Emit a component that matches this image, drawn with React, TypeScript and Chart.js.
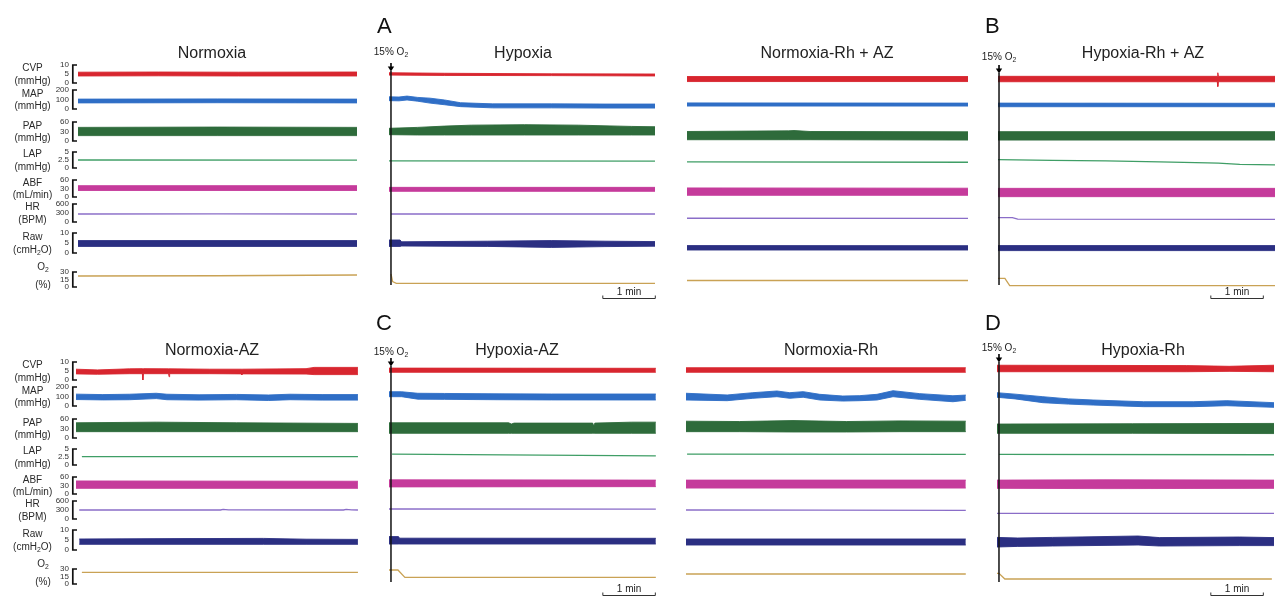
import React, { useEffect, useRef } from "react";
import { Chart, registerables } from "chart.js";
Chart.register(...registerables);

type Band = [number, number, number][]; // [minutes, low envelope, high envelope]
type Trace = [number, number][]; // [minutes, value]
type Seg = [string, boolean]; // [text, subscript]

// ---------------- channels ----------------
const CHANNELS = ["CVP", "MAP", "PAP", "LAP", "ABF", "HR", "Raw", "O2"];
const CHANNEL_MAX = [10, 200, 60, 5, 60, 600, 10, 30];
const TICK_LABELS = [
  ["0", "5", "10"],
  ["0", "100", "200"],
  ["0", "30", "60"],
  ["0", "2.5", "5"],
  ["0", "30", "60"],
  ["0", "300", "600"],
  ["0", "5", "10"],
  ["0", "15", "30"],
];
const NAME_LABELS: Seg[][] = [
  [["CVP", false]],
  [["MAP", false]],
  [["PAP", false]],
  [["LAP", false]],
  [["ABF", false]],
  [["HR", false]],
  [["Raw", false]],
  [["O", false], ["2", true]],
];
const UNIT_LABELS: Seg[][] = [
  [["(mmHg)", false]],
  [["(mmHg)", false]],
  [["(mmHg)", false]],
  [["(mmHg)", false]],
  [["(mL/min)", false]],
  [["(BPM)", false]],
  [["(cmH", false], ["2", true], ["O)", false]],
  [["(%)", false]],
];
const CHANNEL_COLORS = ["#d8262f", "#2f6ec6", "#2e6b3b", "#3f9e66", "#c53b9b", "#8a6dc8", "#2b2f82", "#c9a255"];
const IS_BAND = [true, true, true, false, true, false, true, false];

// ---------------- Normoxia ----------------
const P1_CVP: Band = [[0, 3.9, 6.0], [1.5, 4.0, 6.1], [3.0, 3.9, 6.0], [5.22, 3.9, 6.1]];
const P1_MAP: Band = [[0, 64, 104], [2.6, 66, 106], [5.22, 64, 104]];
const P1_PAP: Band = [[0, 17, 43], [2.6, 17, 44], [5.22, 17, 43]];
const P1_LAP: Trace = [[0, 2.5], [5.22, 2.45]];
const P1_ABF: Band = [[0, 23, 40], [5.22, 23, 40]];
const P1_HR: Trace = [[0, 267], [2.6, 272], [5.22, 267]];
const P1_RAW: Band = [[0, 3.3, 6.2], [5.22, 3.3, 6.2]];
const P1_O2: Trace = [[0, 22], [2.6, 22.5], [5.22, 24]];

// ---------------- Hypoxia ----------------
const P2_CVP: Band = [[-0.04, 4.4, 5.7], [1.0, 4.2, 5.4], [3.0, 4.1, 5.1], [4.94, 3.9, 5.0]];
const P2_MAP: Band = [[-0.04, 88, 128], [0.15, 86, 126], [0.3, 95, 136], [0.5, 82, 122], [0.73, 62, 114], [1.0, 45, 95], [1.3, 25, 66], [1.9, 12, 54], [3.0, 12, 54], [4.0, 10, 52], [4.94, 10, 52]];
const P2_PAP: Band = [[-0.04, 20, 40], [0.5, 19, 43], [1.0, 19, 47], [1.5, 19, 50], [2.5, 19, 51.5], [3.5, 19, 50], [4.5, 19, 46], [4.94, 19, 45]];
const P2_LAP: Trace = [[-0.04, 2.2], [4.94, 2.15]];
const P2_ABF: Band = [[-0.04, 20, 34], [4.94, 20, 34]];
const P2_HR: Trace = [[0, 267], [4.94, 267]];
const P2_RAW: Band = [[-0.04, 3.3, 6.5], [0.17, 3.3, 6.5], [0.2, 3.5, 5.6], [1.8, 3.3, 5.9], [3.0, 2.8, 6.2], [4.0, 3.2, 5.9], [4.94, 3.4, 5.7]];
const P2_O2: Trace = [[0, 26], [0.03, 11], [0.1, 7.4], [4.94, 7.4]];

// ---------------- Normoxia-Rh + AZ ----------------
const P3_CVP: Band = [[0, 0.8, 3.6], [5.26, 0.8, 3.6]];
const P3_MAP: Band = [[0, 31, 64], [5.26, 31, 62]];
const P3_PAP: Band = [[0, 4, 30], [1.9, 4, 32], [2.0, 4, 33], [2.3, 4, 30], [5.26, 3, 29]];
const P3_LAP: Trace = [[0, 1.9], [5.26, 1.8]];
const P3_ABF: Band = [[0, 6, 32], [5.26, 6, 31]];
const P3_HR: Trace = [[0, 125], [5.26, 123]];
const P3_RAW: Band = [[0, 1.5, 3.7], [5.26, 1.5, 3.65]];
const P3_O2: Trace = [[0, 13], [5.26, 13]];

// ---------------- Hypoxia-Rh + AZ ----------------
const P4_CVP: Band = [[-0.02, 0.7, 3.7], [4.08, 0.7, 3.7], [4.09, -2.4, 5.7], [4.1, 0.7, 3.7], [5.16, 0.7, 3.7]];
const P4_MAP: Band = [[-0.02, 24, 62], [5.16, 24, 60]];
const P4_PAP: Band = [[-0.02, 3, 29.5], [5.16, 3, 29.5]];
const P4_LAP: Trace = [[-0.02, 2.6], [1.0, 2.4], [2.0, 2.2], [3.0, 1.9], [3.9, 1.6], [4.1, 1.5], [4.5, 1.15], [5.16, 0.95]];
const P4_ABF: Band = [[-0.02, 1.2, 30.5], [5.16, 1.2, 30.5]];
const P4_HR: Trace = [[-0.02, 143], [0.25, 143], [0.35, 95], [5.16, 90]];
const P4_RAW: Band = [[-0.02, 1.2, 3.7], [5.16, 1.2, 3.7]];
const P4_O2: Trace = [[-0.02, 17.4], [0.11, 17.4], [0.2, 3], [5.16, 2.6]];

// ---------------- Normoxia-AZ ----------------
const P5_CVP: Band = [[0, 3.4, 6.0], [0.4, 3.2, 5.6], [1.0, 3.5, 6.2], [1.24, 3.5, 6.3], [1.25, 0, 6.3], [1.26, 3.5, 6.3], [1.73, 3.5, 6.2], [1.74, 1.8, 6.2], [1.75, 3.5, 6.2], [2.5, 3.5, 6.0], [3.09, 3.4, 6.0], [3.1, 2.8, 6.0], [3.11, 3.4, 6.0], [4.3, 3.3, 6.3], [4.45, 3.0, 7.0], [5.27, 3.0, 7.0]];
const P5_MAP: Band = [[0, 68, 125], [0.5, 64, 120], [1.0, 66, 124], [1.5, 78, 134], [1.7, 66, 124], [2.3, 62, 118], [3.0, 66, 122], [3.6, 58, 116], [4.0, 66, 124], [4.6, 62, 120], [5.27, 62, 120]];
const P5_PAP: Band = [[0, 20, 48], [1.5, 20, 50], [3.0, 20, 48], [5.27, 20, 46]];
const P5_LAP: Trace = [[0.11, 2.6], [5.27, 2.6]];
const P5_ABF: Band = [[0, 20, 46], [5.27, 20, 45]];
const P5_HR: Trace = [[0.06, 300], [2.7, 300], [2.75, 318], [2.85, 302], [5.0, 300], [5.05, 320], [5.15, 305], [5.27, 300]];
const P5_RAW: Band = [[0.06, 2.85, 5.5], [2.0, 2.85, 5.7], [3.5, 2.85, 5.8], [4.3, 2.85, 5.4], [5.27, 2.85, 5.3]];
const P5_O2: Trace = [[0.11, 23.3], [5.27, 23.3]];

// ---------------- Hypoxia-AZ ----------------
const P6_CVP: Band = [[-0.04, 4.3, 6.6], [4.95, 4.3, 6.5]];
const P6_MAP: Band = [[-0.04, 98, 150], [0.2, 98, 150], [0.5, 72, 134], [1.0, 70, 132], [2.0, 66, 128], [3.0, 64, 126], [4.95, 63, 126]];
const P6_PAP: Band = [[-0.04, 15, 48], [2.2, 15, 48], [2.25, 15, 44], [2.3, 15, 47], [3.77, 15, 47], [3.79, 15, 37], [3.81, 15, 47], [4.5, 15, 50], [4.95, 15, 50]];
const P6_LAP: Trace = [[0.02, 3.4], [4.95, 2.85]];
const P6_ABF: Band = [[-0.04, 25, 50], [4.95, 26, 49]];
const P6_HR: Trace = [[-0.04, 333], [4.95, 330]];
const P6_RAW: Band = [[-0.04, 3, 6.7], [0.14, 3, 6.7], [0.16, 3, 5.9], [4.95, 3, 5.85]];
const P6_O2: Trace = [[-0.04, 28], [0.13, 28], [0.26, 13.3], [4.95, 13.3]];

// ---------------- Normoxia-Rh ----------------
const P7_CVP: Band = [[0, 4.3, 6.8], [5.23, 4.3, 6.8]];
const P7_MAP: Band = [[0, 63, 134], [0.77, 56, 116], [1.25, 81, 140], [1.7, 98, 158], [1.94, 81, 140], [2.19, 92, 151], [2.5, 63, 123], [2.93, 52, 105], [3.25, 56, 109], [3.57, 63, 123], [3.87, 98, 161], [4.37, 70, 130], [4.99, 45, 108], [5.23, 60, 115]];
const P7_PAP: Band = [[0, 20, 53], [1.0, 20, 52], [2.0, 19, 55], [3.0, 19, 52], [4.0, 20, 54], [5.23, 20, 53]];
const P7_LAP: Trace = [[0.02, 3.4], [5.23, 3.35]];
const P7_ABF: Band = [[0, 21, 49], [5.23, 21, 49]];
const P7_HR: Trace = [[0, 300], [2.5, 297], [5.23, 290]];
const P7_RAW: Band = [[0, 2.5, 5.5], [5.23, 2.5, 5.5]];
const P7_O2: Trace = [[0, 20], [5.23, 20]];

// ---------------- Hypoxia-Rh ----------------
const P8_CVP: Band = [[-0.04, 4.6, 8.2], [3.5, 4.6, 8.0], [4.3, 4.8, 7.6], [5.14, 4.6, 8.2]];
const P8_MAP: Band = [[-0.04, 92, 140], [0.3, 75, 125], [0.82, 35, 98], [1.3, 20, 75], [1.76, 10, 63], [2.7, -7, 45], [3.63, -7, 45], [4.26, 3, 56], [5.14, -14, 35]];
const P8_PAP: Band = [[-0.04, 15, 44], [2.5, 15, 45], [5.14, 14, 46]];
const P8_LAP: Trace = [[0, 3.3], [5.14, 3.2]];
const P8_ABF: Band = [[-0.04, 20, 49], [2.0, 19, 50], [5.14, 20, 49]];
const P8_HR: Trace = [[-0.04, 190], [5.14, 185]];
const P8_RAW: Band = [[-0.04, 1.5, 6.3], [0.35, 1.8, 6.0], [1.0, 2.0, 6.3], [2.6, 2.5, 7.0], [3.0, 2.0, 6.2], [4.5, 2.2, 6.5], [5.14, 2.2, 6.2]];
const P8_O2: Trace = [[-0.04, 21.3], [0, 21.3], [0.11, 10], [5.1, 10]];

// scale bar (minutes)
const BAR_START = 3.95;
const BAR_END = 4.95;

// ---------------- layout (pixels, canvas-relative) ----------------
const FONT = '"Liberation Sans", Arial, Helvetica, sans-serif';
const CANVAS_H = 302;
const LANE_EDGES = [60, 86.5, 115.5, 146.5, 174, 200.5, 227.5, 262.5, 292];
const BRACKET_TOP = [65, 90, 122, 152, 180, 204, 233, 272];
const BRACKET_BOT = [83, 109, 141, 168, 197, 222, 253, 287];

type PanelCfg = {
  left: number; top: number; width: number; padL: number; padR: number;
  xmin: number; xmax: number; title: string; titleX: number;
  letter?: string; letterX?: number;
  hyp?: { labelY: number; arrowTop: number };
  bar?: boolean; axis?: boolean;
  series: (Band | Trace)[];
};

const PANELS: PanelCfg[] = [
  { left: 0, top: 0, width: 372, padL: 78, padR: 15, xmin: 0, xmax: 5.215, title: "Normoxia", titleX: 212, axis: true,
    series: [P1_CVP, P1_MAP, P1_PAP, P1_LAP, P1_ABF, P1_HR, P1_RAW, P1_O2] },
  { left: 372, top: 0, width: 300, padL: 17, padR: 17, xmin: -0.037, xmax: 4.935, title: "Hypoxia", titleX: 523, letter: "A", letterX: 377,
    hyp: { labelY: 52, arrowTop: 63 }, bar: true,
    series: [P2_CVP, P2_MAP, P2_PAP, P2_LAP, P2_ABF, P2_HR, P2_RAW, P2_O2] },
  { left: 672, top: 0, width: 300, padL: 15, padR: 4, xmin: 0, xmax: 5.252, title: "Normoxia-Rh + AZ", titleX: 827,
    series: [P3_CVP, P3_MAP, P3_PAP, P3_LAP, P3_ABF, P3_HR, P3_RAW, P3_O2] },
  { left: 972, top: 0, width: 304, padL: 26, padR: 1, xmin: -0.019, xmax: 5.159, title: "Hypoxia-Rh + AZ", titleX: 1143, letter: "B", letterX: 985,
    hyp: { labelY: 57, arrowTop: 65 }, bar: true,
    series: [P4_CVP, P4_MAP, P4_PAP, P4_LAP, P4_ABF, P4_HR, P4_RAW, P4_O2] },
  { left: 0, top: 297, width: 372, padL: 76, padR: 14, xmin: 0, xmax: 5.271, title: "Normoxia-AZ", titleX: 212, axis: true,
    series: [P5_CVP, P5_MAP, P5_PAP, P5_LAP, P5_ABF, P5_HR, P5_RAW, P5_O2] },
  { left: 372, top: 297, width: 300, padL: 17, padR: 16, xmin: -0.037, xmax: 4.953, title: "Hypoxia-AZ", titleX: 517, letter: "C", letterX: 376,
    hyp: { labelY: 55, arrowTop: 61 }, bar: true,
    series: [P6_CVP, P6_MAP, P6_PAP, P6_LAP, P6_ABF, P6_HR, P6_RAW, P6_O2] },
  { left: 672, top: 297, width: 300, padL: 14, padR: 6, xmin: 0, xmax: 5.234, title: "Normoxia-Rh", titleX: 831,
    series: [P7_CVP, P7_MAP, P7_PAP, P7_LAP, P7_ABF, P7_HR, P7_RAW, P7_O2] },
  { left: 972, top: 297, width: 304, padL: 25, padR: 2, xmin: -0.037, xmax: 5.14, title: "Hypoxia-Rh", titleX: 1143, letter: "D", letterX: 985,
    hyp: { labelY: 51, arrowTop: 57 }, bar: true,
    series: [P8_CVP, P8_MAP, P8_PAP, P8_LAP, P8_ABF, P8_HR, P8_RAW, P8_O2] },
];

function drawRich(ctx: CanvasRenderingContext2D, segs: Seg[], cx: number, cy: number, size: number) {
  const widths = segs.map(([t, sub]) => {
    ctx.font = `${sub ? size * 0.68 : size}px ${FONT}`;
    return ctx.measureText(t).width;
  });
  const total = widths.reduce((a, b) => a + b, 0);
  let x = cx - total / 2;
  ctx.textAlign = "left";
  ctx.textBaseline = "middle";
  segs.forEach(([t, sub], i) => {
    ctx.font = `${sub ? size * 0.68 : size}px ${FONT}`;
    ctx.fillText(t, x, sub ? cy + size * 0.3 : cy);
    x += widths[i];
  });
}

function buildScales(p: PanelCfg) {
  const scales: any = { x: { type: "linear", min: p.xmin, max: p.xmax, display: false } };
  CHANNELS.forEach((key, i) => {
    const top = BRACKET_TOP[i], bot = BRACKET_BOT[i];
    const lt = LANE_EDGES[i], lb = LANE_EDGES[i + 1];
    const k = (bot - top) / CHANNEL_MAX[i];
    scales[key] = {
      type: "linear", position: "left", stack: "lanes", stackWeight: lb - lt, weight: 8 - i,
      min: -(lb - bot) / k, max: CHANNEL_MAX[i] + (top - lt) / k, display: false,
    };
  });
  return scales;
}

function buildDatasets(p: PanelCfg) {
  const ds: any[] = [];
  CHANNELS.forEach((key, i) => {
    const s = p.series[i];
    const color = CHANNEL_COLORS[i];
    const common = { yAxisID: key, xAxisID: "x", borderColor: color, backgroundColor: color, pointRadius: 0, tension: 0 };
    if (IS_BAND[i]) {
      const b = s as Band;
      ds.push({ ...common, data: b.map((q) => ({ x: q[0], y: q[2] })), borderWidth: 0.9, fill: "+1" });
      ds.push({ ...common, data: b.map((q) => ({ x: q[0], y: q[1] })), borderWidth: 0.9, fill: false });
    } else {
      const t = s as Trace;
      ds.push({ ...common, data: t.map((q) => ({ x: q[0], y: q[1] })), borderWidth: 1.3, fill: false });
    }
  });
  return ds;
}

function Panel({ p }: { p: PanelCfg }) {
  const ref = useRef<HTMLCanvasElement | null>(null);
  useEffect(() => {
    if (!ref.current) return;
    const deco = {
      id: "deco" ,
      afterDraw(chart: any) {
        const ctx: CanvasRenderingContext2D = chart.ctx;
        const xs = chart.scales.x;
        ctx.save();
        ctx.fillStyle = "#222";
        ctx.font = `16px ${FONT}`;
        ctx.textAlign = "center";
        ctx.textBaseline = "alphabetic";
        ctx.fillText(p.title, p.titleX - p.left, 58);
        if (p.letter) {
          ctx.font = `22px ${FONT}`;
          ctx.textAlign = "left";
          ctx.fillStyle = "#111";
          ctx.fillText(p.letter, (p.letterX || 0) - p.left, 33);
        }
        if (p.hyp) {
          const x0 = xs.getPixelForValue(0);
          ctx.fillStyle = "#222";
          drawRich(ctx, [["15% O", false], ["2", true]], x0, p.hyp.labelY, 10);
          const a = p.hyp.arrowTop;
          ctx.fillStyle = "#000";
          ctx.fillRect(x0 - 0.8, a, 1.6, 4);
          ctx.beginPath();
          ctx.moveTo(x0 - 3.2, a + 3.5);
          ctx.lineTo(x0 + 3.2, a + 3.5);
          ctx.lineTo(x0, a + 8.5);
          ctx.closePath();
          ctx.fill();
          ctx.strokeStyle = "#111";
          ctx.lineWidth = 1.5;
          ctx.beginPath();
          ctx.moveTo(x0, a + 8);
          ctx.lineTo(x0, 285);
          ctx.stroke();
        }
        if (p.bar) {
          const xa = xs.getPixelForValue(BAR_START);
          const xb = xs.getPixelForValue(BAR_END);
          ctx.strokeStyle = "#333";
          ctx.lineWidth = 1;
          ctx.beginPath();
          ctx.moveTo(xa + 0.5, 295.5);
          ctx.lineTo(xa + 0.5, 298.5);
          ctx.lineTo(xb - 0.5, 298.5);
          ctx.lineTo(xb - 0.5, 295.5);
          ctx.stroke();
          ctx.fillStyle = "#222";
          ctx.font = `10px ${FONT}`;
          ctx.textAlign = "center";
          ctx.textBaseline = "alphabetic";
          ctx.fillText("1 min", (xa + xb) / 2, 294.5);
        }
        if (p.axis) {
          CHANNELS.forEach((key, i) => {
            const ys = chart.scales[key];
            const y0 = ys.getPixelForValue(0);
            const yMid = ys.getPixelForValue(CHANNEL_MAX[i] / 2);
            const yMax = ys.getPixelForValue(CHANNEL_MAX[i]);
            ctx.strokeStyle = "#111";
            ctx.lineWidth = 1.7;
            ctx.beginPath();
            ctx.moveTo(77, yMax);
            ctx.lineTo(72.8, yMax);
            ctx.lineTo(72.8, y0);
            ctx.lineTo(77, y0);
            ctx.stroke();
            ctx.fillStyle = "#333";
            ctx.font = `8px ${FONT}`;
            ctx.textAlign = "right";
            ctx.textBaseline = "middle";
            ctx.fillText(TICK_LABELS[i][0], 69, y0);
            ctx.fillText(TICK_LABELS[i][1], 69, yMid);
            ctx.fillText(TICK_LABELS[i][2], 69, yMax);
            ctx.fillStyle = "#2a2a2a";
            if (key === "O2") {
              drawRich(ctx, NAME_LABELS[i], 43, yMid - 12.5, 10);
              drawRich(ctx, UNIT_LABELS[i], 43, yMid + 6, 10);
            } else {
              drawRich(ctx, NAME_LABELS[i], 32.5, yMid - 5.5, 10);
              drawRich(ctx, UNIT_LABELS[i], 32.5, yMid + 7, 10);
            }
          });
        }
        ctx.restore();
      },
    };
    const chart = new Chart(ref.current, {
      type: "line",
      data: { datasets: buildDatasets(p) },
      options: {
        animation: false,
        responsive: false,
        maintainAspectRatio: false,
        events: [],
        layout: { padding: { left: p.padL, right: p.padR, top: LANE_EDGES[0], bottom: CANVAS_H - LANE_EDGES[8] } },
        plugins: { legend: { display: false }, tooltip: { enabled: false } },
        scales: buildScales(p),
      } as any,
      plugins: [deco as any],
    });
    return () => chart.destroy();
  }, [p]);
  return (
    <canvas
      ref={ref}
      width={p.width}
      height={CANVAS_H}
      style={{ position: "absolute", left: p.left, top: p.top, width: p.width, height: CANVAS_H, display: "block" }}
    />
  );
}

export default function App() {
  return (
    <div style={{ position: "fixed", left: 0, top: 0, width: 1276, height: 598, background: "#fff", overflow: "hidden" }}>
      {PANELS.map((p, i) => (
        <Panel key={i} p={p} />
      ))}
    </div>
  );
}
